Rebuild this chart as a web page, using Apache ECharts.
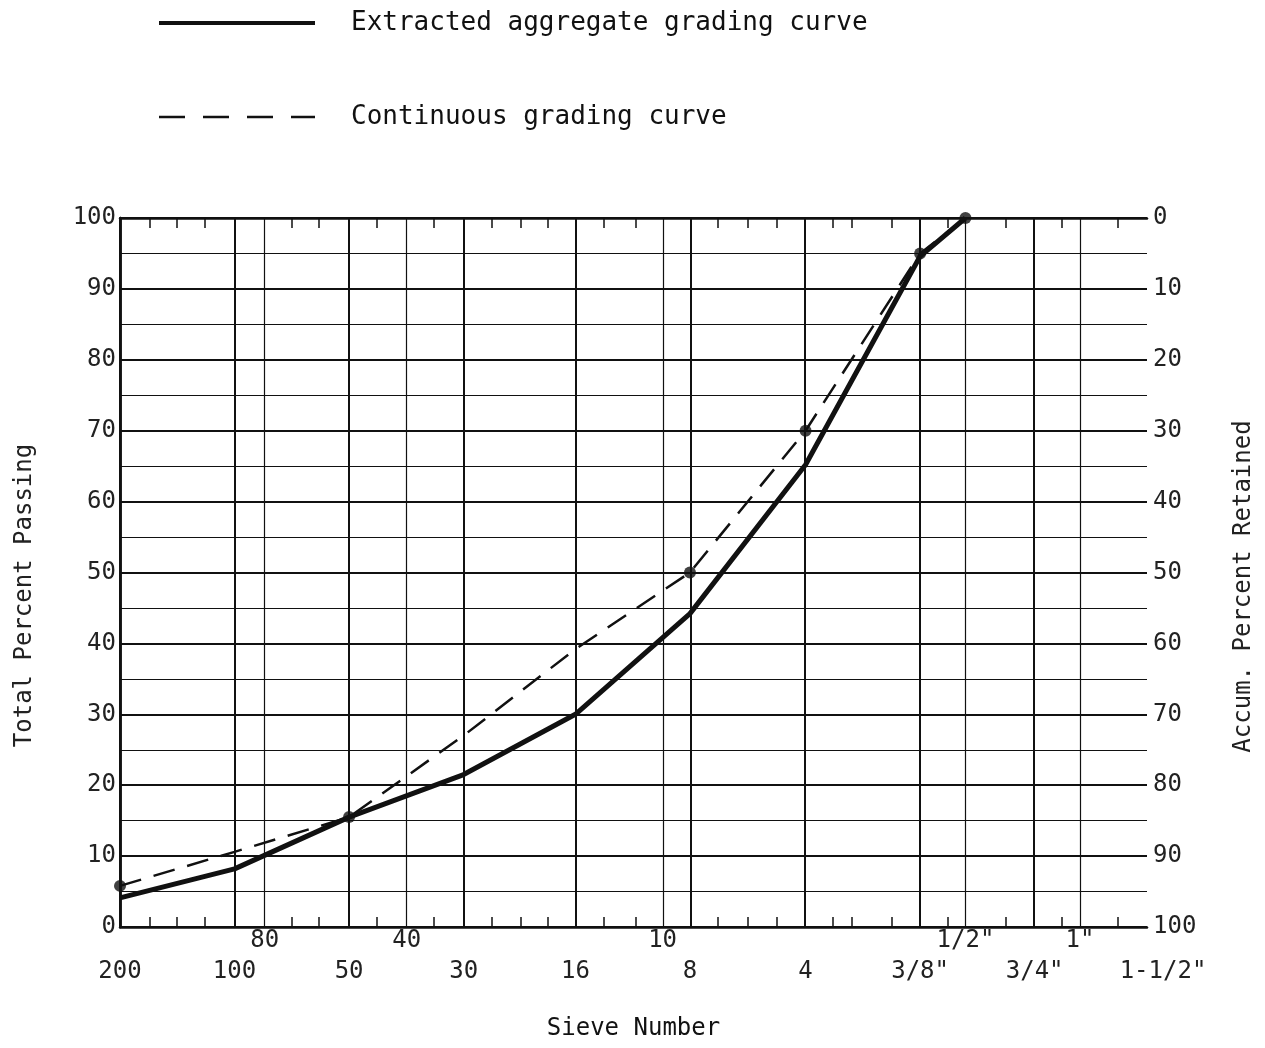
<!DOCTYPE html>
<html>
<head>
<meta charset="utf-8">
<script src="https://cdn.jsdelivr.net/npm/echarts@6/dist/echarts.min.js"></script>
<style>
html,body{margin:0;padding:0;background:#fff;}
#chart{width:1265px;height:1048px;}
</style>
</head>
<body>
<div id="chart"></div>
<script>
// ---- Sieve scale (openings in mm, plotted on a log2 scale) ----
const SIEVE_MM_MAIN = [0.075, 0.15, 0.3, 0.6, 1.18, 2.36, 4.75, 9.5, 19.0, 37.5];
const SIEVE_LABEL_MAIN = ['200', '100', '50', '30', '16', '8', '4', '3/8"', '3/4"', '1-1/2"'];
const SIEVE_MM_SECONDARY = [0.18, 0.425, 2.0, 12.5, 25.0];
const SIEVE_LABEL_SECONDARY = ['80', '40', '10', '1/2"', '1"'];
const SIEVE_MM_MINOR = [0.09, 0.106, 0.125, 0.212, 0.25, 0.355, 0.5, 0.71, 0.85, 1.0,
  1.4, 1.7, 2.8, 3.35, 4.0, 5.6, 6.3, 8.0, 11.2, 16.0, 22.4, 31.5];

// ---- Curves ----
const curveSieveMM = [0.075, 0.15, 0.3, 0.6, 1.18, 2.36, 4.75, 9.5, 12.5];
const extractedPassing = [4.1, 8.2, 15.5, 21.5, 30.0, 44.2, 65.2, 94.6, 100];
const continuousPassing = [5.8, 10.6, 15.5, 27.0, 39.2, 50.0, 70.0, 95.0, 100];
const continuousMarked = [true, false, true, false, false, true, true, true, true];

const BASE_MM = SIEVE_MM_MAIN[0];
const pos = mm => Math.log2(mm / BASE_MM);
const X_MAX = pos(SIEVE_MM_MAIN[SIEVE_MM_MAIN.length - 1]);

const key = v => v.toFixed(5);
const mainLabelMap = {};
SIEVE_MM_MAIN.forEach((mm, i) => { mainLabelMap[key(pos(mm))] = SIEVE_LABEL_MAIN[i]; });
const secLabelMap = {};
SIEVE_MM_SECONDARY.forEach((mm, i) => { secLabelMap[key(pos(mm))] = SIEVE_LABEL_SECONDARY[i]; });

const FONT = "'DejaVu Sans Mono', monospace";
const INK = '#111';

const extractedData = curveSieveMM.map((mm, i) => [pos(mm), extractedPassing[i]]);
const continuousData = curveSieveMM.map((mm, i) => [pos(mm), continuousPassing[i]]);
const continuousDots = continuousData.filter((d, i) => continuousMarked[i]);

const gridLines = []
  .concat(SIEVE_MM_MAIN.map(mm => ({ xAxis: pos(mm), lineStyle: { width: 2, color: INK, type: 'solid' } })))
  .concat(SIEVE_MM_SECONDARY.map(mm => ({ xAxis: pos(mm), lineStyle: { width: 1.2, color: INK, type: 'solid' } })));

const chart = echarts.init(document.getElementById('chart'), null, { renderer: 'canvas' });

const xBase = {
  type: 'value', min: 0, max: X_MAX,
  splitLine: { show: false }
};

const lastMain = SIEVE_LABEL_MAIN[SIEVE_LABEL_MAIN.length - 1];

chart.setOption({
  animation: false,
  backgroundColor: '#fff',
  legend: {
    data: [
      { name: 'Extracted aggregate grading curve', itemStyle: { opacity: 0 },
        lineStyle: { width: 4, color: INK, type: 'solid' } },
      { name: 'Continuous grading curve', itemStyle: { opacity: 0 },
        lineStyle: { width: 2.5, color: INK, type: [26, 18] } }
    ],
    orient: 'vertical',
    left: 152, top: 5,
    itemWidth: 156, itemHeight: 30, itemGap: 68,
    selectedMode: false,
    textStyle: { fontFamily: FONT, fontSize: 26, color: INK, padding: [0, 0, 0, 31] }
  },
  grid: { left: 120, right: 118, top: 218, bottom: 121, containLabel: false },
  xAxis: [
    Object.assign({}, xBase, {
      position: 'bottom',
      name: 'Sieve Number', nameLocation: 'middle', nameGap: 90,
      nameTextStyle: { fontFamily: FONT, fontSize: 24, color: INK },
      axisLine: { show: true, lineStyle: { color: INK, width: 2.5 } },
      axisTick: { show: true, inside: true, length: 10, customValues: SIEVE_MM_MINOR.map(pos),
        lineStyle: { color: INK, width: 1.5 } },
      axisLabel: { show: true, customValues: SIEVE_MM_MAIN.map(pos), margin: 33,
        fontFamily: FONT, fontSize: 24, color: '#222',
        formatter: v => {
          const t = mainLabelMap[key(v)] || '';
          return t === lastMain ? '{r|' + t + '}' : t;
        },
        rich: { r: { fontFamily: FONT, fontSize: 24, color: '#222', padding: [0, 0, 0, 32] } } }
    }),
    Object.assign({}, xBase, {
      position: 'bottom',
      axisLine: { show: false },
      axisTick: { show: false },
      axisLabel: { show: true, customValues: SIEVE_MM_SECONDARY.map(pos), margin: 2,
        fontFamily: FONT, fontSize: 24, color: '#222',
        formatter: v => secLabelMap[key(v)] || '' }
    }),
    Object.assign({}, xBase, {
      position: 'top',
      axisLine: { show: true, lineStyle: { color: INK, width: 2.5 } },
      axisTick: { show: true, inside: true, length: 10, customValues: SIEVE_MM_MINOR.map(pos),
        lineStyle: { color: INK, width: 1.5 } },
      axisLabel: { show: false }
    })
  ],
  yAxis: [
    {
      type: 'value', min: 0, max: 100, interval: 10, position: 'left',
      name: 'Total Percent Passing', nameLocation: 'middle', nameGap: 83, nameRotate: 90,
      nameTextStyle: { fontFamily: FONT, fontSize: 24, color: '#222', padding: [0, 46, 0, 0] },
      axisLine: { show: true, lineStyle: { color: INK, width: 2.5 } },
      axisTick: { show: false },
      axisLabel: { margin: 4, fontFamily: FONT, fontSize: 24, color: '#222' },
      splitLine: { show: true, lineStyle: { color: INK, width: 2 } },
      minorTick: { show: false, splitNumber: 2 },
      minorSplitLine: { show: true, lineStyle: { color: INK, width: 1.2 } }
    },
    {
      type: 'value', min: 0, max: 100, interval: 10, position: 'right', inverse: true,
      name: 'Accum. Percent Retained', nameLocation: 'middle', nameGap: 85, nameRotate: 90,
      nameTextStyle: { fontFamily: FONT, fontSize: 24, color: '#222', padding: [0, 28, 0, 0] },
      axisLine: { show: true, lineStyle: { color: INK, width: 2.5 } },
      axisTick: { show: false },
      axisLabel: { margin: 6, fontFamily: FONT, fontSize: 24, color: '#222' },
      splitLine: { show: false }
    }
  ],
  series: [
    {
      name: 'grid', type: 'line', data: [], silent: true, z: 1,
      markLine: { silent: true, symbol: ['none', 'none'], label: { show: false },
        animation: false, data: gridLines }
    },
    {
      name: 'Extracted aggregate grading curve', type: 'line', z: 4,
      data: extractedData, symbol: 'none', smooth: false,
      lineStyle: { color: INK, width: 5, type: 'solid' },
      itemStyle: { color: INK }
    },
    {
      name: 'Continuous grading curve', type: 'line', z: 3,
      data: continuousData, symbol: 'none', smooth: false,
      lineStyle: { color: INK, width: 2.5, type: [22, 13] },
      itemStyle: { color: INK }
    },
    {
      name: 'continuous points', type: 'scatter', z: 5,
      data: continuousDots, symbol: 'circle', symbolSize: 12,
      itemStyle: { color: INK }
    }
  ]
});
</script>
</body>
</html>
